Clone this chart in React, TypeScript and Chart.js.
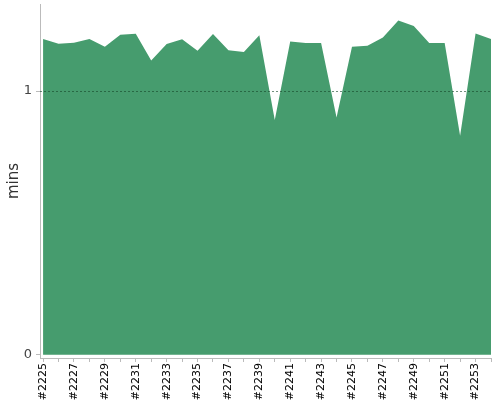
import React, { useEffect, useRef } from "react";
import { Chart, registerables } from "chart.js";

Chart.register(...registerables);

const builds = [
  "#2225", "#2226", "#2227", "#2228", "#2229", "#2230", "#2231", "#2232", "#2233", "#2234",
  "#2235", "#2236", "#2237", "#2238", "#2239", "#2240", "#2241", "#2242", "#2243", "#2244",
  "#2245", "#2246", "#2247", "#2248", "#2249", "#2250", "#2251", "#2252", "#2253", "#2254",
];

const durations = [
  1.197, 1.179, 1.183, 1.197, 1.168, 1.213, 1.217, 1.116, 1.178, 1.196,
  1.153, 1.216, 1.155, 1.148, 1.212, 0.89, 1.188, 1.182, 1.182, 0.9,
  1.168, 1.172, 1.203, 1.267, 1.247, 1.182, 1.182, 0.831, 1.218, 1.197,
];

const yTickValues = [0, 1];

const FILL = "#469c6e";

const dashedLinePlugin = {
  id: "dashedRef",
  afterDatasetsDraw(chart: any) {
    const { ctx, chartArea, scales } = chart;
    ctx.save();
    ctx.strokeStyle = "rgba(20,70,40,0.6)";
    ctx.lineWidth = 1;
    ctx.setLineDash([2, 2]);
    yTickValues.forEach((v) => {
      if (v === 0) return;
      const y = Math.round(scales.y.getPixelForValue(v)) + 0.5;
      ctx.beginPath();
      ctx.moveTo(chartArea.left, y);
      ctx.lineTo(chartArea.right, y);
      ctx.stroke();
    });
    ctx.restore();
  },
};

export default function App() {
  const ref = useRef<HTMLCanvasElement>(null);
  useEffect(() => {
    const chart = new Chart(ref.current!, {
      type: "line",
      data: {
        datasets: [
          {
            data: builds.map((_, i) => ({ x: i, y: durations[i] })),
            backgroundColor: FILL,
            borderColor: FILL,
            borderWidth: 0,
            pointRadius: 0,
            fill: "origin",
            tension: 0,
          },
        ],
      },
      options: {
        responsive: false,
        animation: false,
        layout: { padding: { top: 4, right: 9, left: 0, bottom: 0 } },
        plugins: { legend: { display: false }, tooltip: { enabled: false } },
        scales: {
          x: {
            type: "linear",
            min: -0.2,
            max: 29,
            afterBuildTicks: (s: any) => {
              s.ticks = builds.map((_, i) => ({ value: i }));
            },
            afterFit: (s: any) => {
              s.height = 42;
              s.paddingLeft = 0;
              s.paddingRight = 0;
            },
            ticks: {
              autoSkip: false,
              maxRotation: 90,
              minRotation: 90,
              padding: 1,
              color: "#000",
              font: { family: "DejaVu Sans", size: 11 },
              callback: (v: any) => (Number(v) % 2 === 0 ? builds[Number(v)] : ""),
            },
            grid: { drawOnChartArea: false, tickLength: 4, color: "#bbb" },
            border: { color: "#bbb", width: 1 },
          },
          y: {
            min: -0.012,
            max: 1.33,
            afterBuildTicks: (s: any) => {
              s.ticks = yTickValues.map((v) => ({ value: v }));
            },
            afterFit: (s: any) => {
              s.width = 40;
              s.paddingTop = 0;
              s.paddingBottom = 0;
            },
            ticks: {
              color: "#444",
              padding: 4,
              font: { family: "DejaVu Sans", size: 13 },
            },
            title: {
              display: true,
              text: "mins",
              color: "#333",
              font: { family: "DejaVu Sans", size: 15 },
              padding: { top: 5, bottom: 0 },
            },
            grid: { drawOnChartArea: false, tickLength: 4, color: "#bbb" },
            border: { color: "#bbb", width: 1 },
          },
        },
      },
      plugins: [dashedLinePlugin],
    });
    return () => chart.destroy();
  }, []);
  return (
    <div style={{ position: "fixed", left: 0, top: 0, width: 500, height: 400, background: "#fff" }}>
      <canvas ref={ref} width={500} height={400} />
    </div>
  );
}
